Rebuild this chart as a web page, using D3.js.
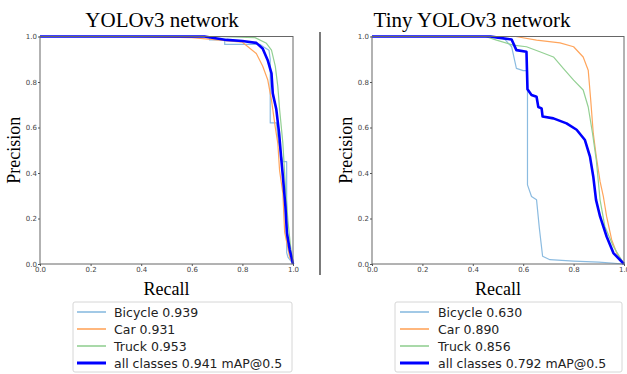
<!DOCTYPE html>
<html>
<head>
<meta charset="utf-8">
<script src="https://cdn.jsdelivr.net/npm/d3@7"></script>
<style>
  body { margin: 0; background: #fff; }
  svg { display: block; }
</style>
</head>
<body>
<div id="chart"></div>
<script>
// ticks shared by both panels
const ticks = [0, 0.2, 0.4, 0.6, 0.8, 1.0];

// YOLOv3 panel
const yoloBikeR = [0, 0.67, 0.67, 0.73, 0.73, 0.87, 0.89, 0.905, 0.91, 0.91, 0.935, 0.94, 0.955, 0.96, 0.975, 0.975, 0.98, 1.0];
const yoloBikeP = [1, 1, 0.985, 0.985, 0.965, 0.965, 0.95, 0.94, 0.9, 0.62, 0.62, 0.55, 0.47, 0.45, 0.45, 0.05, 0.03, 0];
const yoloCarR = [0, 0.35, 0.6, 0.8, 0.855, 0.88, 0.9, 0.915, 0.93, 0.94, 0.947, 0.96, 0.967, 0.987, 1.0];
const yoloCarP = [1, 1, 0.995, 0.975, 0.925, 0.87, 0.81, 0.72, 0.6, 0.53, 0.41, 0.31, 0.14, 0.03, 0];
const yoloTruckR = [0, 0.7, 0.85, 0.895, 0.915, 0.93, 0.94, 0.947, 0.96, 0.97, 0.98, 0.99, 1.0];
const yoloTruckP = [1, 1, 0.995, 0.97, 0.94, 0.87, 0.78, 0.68, 0.53, 0.34, 0.19, 0.08, 0];
const yoloAllR = [0, 0.65, 0.737, 0.8, 0.855, 0.88, 0.9, 0.915, 0.92, 0.934, 0.945, 0.954, 0.96, 0.97, 0.976, 0.987, 1.0];
const yoloAllP = [1, 1, 0.985, 0.98, 0.972, 0.947, 0.896, 0.838, 0.75, 0.68, 0.575, 0.458, 0.385, 0.253, 0.136, 0.063, 0];

// Tiny YOLOv3 panel
const tinyBikeR = [0, 0.5, 0.527, 0.554, 0.573, 0.6, 0.617, 0.617, 0.633, 0.653, 0.664, 0.677, 0.706, 0.8, 0.9, 1.0];
const tinyBikeP = [1, 1, 0.987, 0.955, 0.86, 0.85, 0.85, 0.348, 0.297, 0.282, 0.158, 0.034, 0.019, 0.013, 0.008, 0];
const tinyCarR = [0, 0.57, 0.653, 0.746, 0.8, 0.838, 0.858, 0.868, 0.878, 0.89, 0.905, 0.918, 0.931, 0.951, 0.971, 1.0];
const tinyCarP = [1, 1, 0.984, 0.972, 0.955, 0.91, 0.852, 0.72, 0.575, 0.472, 0.363, 0.297, 0.209, 0.107, 0.048, 0];
const tinyTruckR = [0, 0.45, 0.494, 0.56, 0.613, 0.666, 0.72, 0.759, 0.8, 0.838, 0.858, 0.875, 0.89, 0.905, 0.924, 0.958, 1.0];
const tinyTruckP = [1, 1, 0.984, 0.962, 0.955, 0.933, 0.91, 0.86, 0.808, 0.765, 0.69, 0.575, 0.458, 0.282, 0.165, 0.077, 0];
const tinyAllR = [0, 0.47, 0.5, 0.554, 0.573, 0.613, 0.617, 0.633, 0.653, 0.66, 0.673, 0.677, 0.72, 0.772, 0.812, 0.845, 0.865, 0.878, 0.889, 0.905, 0.931, 0.958, 1.0];
const tinyAllP = [1, 1, 0.995, 0.987, 0.94, 0.933, 0.768, 0.743, 0.735, 0.69, 0.684, 0.648, 0.64, 0.618, 0.59, 0.545, 0.472, 0.385, 0.282, 0.209, 0.121, 0.048, 0];

const classNames = ["Bicycle", "Car", "Truck", "all classes"];
const classColors = ["#8bbbe0", "#ffa55c", "#93d093", "#0000ff"];
const classWidths = [1.2, 1.2, 1.2, 2.6];
const yoloScores = ["0.939", "0.931", "0.953", "0.941 mAP@0.5"];
const tinyScores = ["0.630", "0.890", "0.856", "0.792 mAP@0.5"];

const width = 627;
const height = 374;

const svg = d3.select("#chart")
  .append("svg")
  .attr("width", width)
  .attr("height", height);

function zip(rs, ps) {
  return rs.map((r, i) => [r, ps[i]]);
}

const panels = [
  {
    title: "YOLOv3 network",
    titleX: 162,
    left: 40, right: 293,
    series: [zip(yoloBikeR, yoloBikeP), zip(yoloCarR, yoloCarP), zip(yoloTruckR, yoloTruckP), zip(yoloAllR, yoloAllP)],
    scores: yoloScores,
    legend: { x: 73, w: 219, lineX: 77, textX: 114 }
  },
  {
    title: "Tiny YOLOv3 network",
    titleX: 472,
    left: 372, right: 624,
    series: [zip(tinyBikeR, tinyBikeP), zip(tinyCarR, tinyCarP), zip(tinyTruckR, tinyTruckP), zip(tinyAllR, tinyAllP)],
    scores: tinyScores,
    legend: { x: 395, w: 227, lineX: 400, textX: 438 }
  }
];

const plotTop = 36.5;
const plotBottom = 264;

panels.forEach(p => {
  const x = d3.scaleLinear().domain([0, 1]).range([p.left, p.right]);
  const y = d3.scaleLinear().domain([0, 1]).range([plotBottom, plotTop]);
  const mid = (p.left + p.right) / 2;

  // title
  svg.append("text")
    .attr("x", p.titleX)
    .attr("y", 27)
    .attr("text-anchor", "middle")
    .style("font-family", "'Liberation Serif', 'Times New Roman', serif")
    .style("font-size", "21px")
    .text(p.title);

  // curves
  const line = d3.line().x(d => x(d[0])).y(d => y(d[1]));
  p.series.forEach((s, i) => {
    svg.append("path")
      .datum(s)
      .attr("d", line)
      .attr("fill", "none")
      .attr("stroke", classColors[i])
      .attr("stroke-width", classWidths[i])
      .attr("stroke-linejoin", "round");
  });

  // frame
  svg.append("rect")
    .attr("x", p.left)
    .attr("y", plotTop)
    .attr("width", p.right - p.left)
    .attr("height", plotBottom - plotTop)
    .attr("fill", "none")
    .attr("stroke", "#666")
    .attr("stroke-width", 1);

  // axes
  const xAxis = svg.append("g")
    .attr("transform", `translate(0,${plotBottom})`)
    .call(d3.axisBottom(x).tickValues(ticks).tickFormat(d3.format(".1f")).tickSize(2).tickPadding(1));
  const yAxis = svg.append("g")
    .attr("transform", `translate(${p.left},0)`)
    .call(d3.axisLeft(y).tickValues(ticks).tickFormat(d3.format(".1f")).tickSize(2).tickPadding(1));
  [xAxis, yAxis].forEach(g => {
    g.select(".domain").remove();
    g.selectAll("line").attr("stroke", "#555");
    g.selectAll("text")
      .style("font-family", "'DejaVu Sans', sans-serif")
      .style("font-size", "7px")
      .attr("fill", "#444");
  });

  // axis labels
  svg.append("text")
    .attr("x", mid)
    .attr("y", 295)
    .attr("text-anchor", "middle")
    .style("font-family", "'Liberation Serif', 'Times New Roman', serif")
    .style("font-size", "18px")
    .text("Recall");

  svg.append("text")
    .attr("transform", `translate(${p.left - 20},${(plotTop + plotBottom) / 2}) rotate(-90)`)
    .attr("text-anchor", "middle")
    .style("font-family", "'Liberation Serif', 'Times New Roman', serif")
    .style("font-size", "18px")
    .text("Precision");

  // legend
  const lg = svg.append("g");
  lg.append("rect")
    .attr("x", p.legend.x)
    .attr("y", 302)
    .attr("width", p.legend.w)
    .attr("height", 70)
    .attr("rx", 2)
    .attr("fill", "#fff")
    .attr("stroke", "#d6d6d6");
  classNames.forEach((name, i) => {
    const ly = 312 + i * 17;
    lg.append("line")
      .attr("x1", p.legend.lineX)
      .attr("x2", p.legend.lineX + 29)
      .attr("y1", ly)
      .attr("y2", ly)
      .attr("stroke", classColors[i])
      .attr("stroke-width", classWidths[i] + 0.4);
    lg.append("text")
      .attr("x", p.legend.textX)
      .attr("y", ly + 4.5)
      .style("font-family", "'DejaVu Sans', sans-serif")
      .style("font-size", "12.5px")
      .attr("fill", "#222")
      .text(`${name} ${p.scores[i]}`);
  });
});

// divider between the panels
svg.append("line")
  .attr("x1", 320).attr("x2", 320)
  .attr("y1", 32).attr("y2", 275)
  .attr("stroke", "#222")
  .attr("stroke-width", 1.2);
</script>
</body>
</html>
